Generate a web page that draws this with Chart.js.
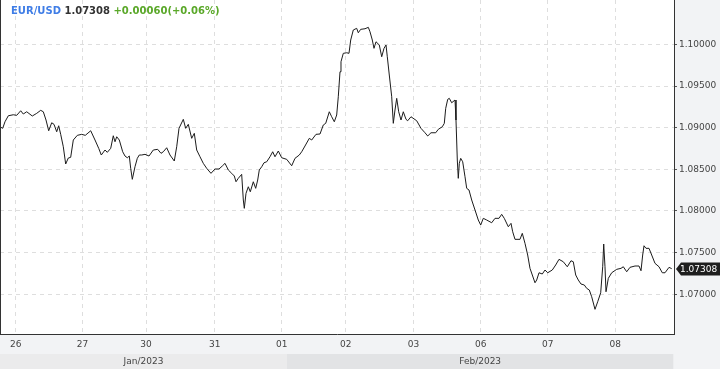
<!DOCTYPE html>
<html>
<head>
<meta charset="utf-8">
<script src="https://cdn.jsdelivr.net/npm/chart.js@4/dist/chart.umd.min.js"></script>
<style>
html,body{margin:0;padding:0;background:#f2f3f5;}
#wrap{position:relative;width:720px;height:369px;overflow:hidden;}
#title{position:absolute;left:11px;top:5px;font:bold 10px "DejaVu Sans",sans-serif;line-height:12px;white-space:pre;}
#title .sym{color:#3f7de6;}
#title .px{color:#333;}
#title .chg{color:#5aa829;}
</style>
</head>
<body>
<div id="wrap">
<canvas id="c" width="720" height="369"></canvas>
<div id="title"><span class="sym">EUR/USD</span> <span class="px">1.07308</span> <span class="chg">+0.00060(+0.06%)</span></div>
</div>
<script>
// ---- data (time in hours from the start of the window, EUR/USD price) ----
const hours = [0,0.96,1.78,2.96,4.74,5.95,7.37,8.30,9.51,11.50,13.07,14.49,15.42,16.38,17.34,18.41,19.23,20.19,20.90,21.61,
22.54,23.39,24.32,25.17,26.10,27.53,29.09,30.37,32.30,33.83,35.15,36.07,37.39,38.21,39.42,40.34,40.95,41.56,42.48,43.69,
44.51,45.33,46.04,46.54,47.11,48.07,48.89,49.60,50.46,51.63,53.06,54.59,56.15,57.33,58.15,59.36,60.53,62.06,62.92,63.74,
65.27,66.12,67.05,68.26,69.19,70.04,71.22,72.39,73.60,75.13,76.56,77.98,79.16,80.12,81.30,82.50,83.43,84.04,84.85,86.06,
86.64,86.99,87.60,88.42,89.13,90.20,91.05,91.76,92.33,93.19,94.01,94.97,96.14,97.10,97.92,99.10,100.31,102.09,103.87,105.04,
106.58,107.43,108.60,110.14,110.99,112.52,113.95,115.12,115.98,117.26,118.11,119.04,119.89,120.46,121.07,121.42,122.24,123.45,124.27,124.88,
125.80,127.01,127.58,128.44,129.97,131.15,131.75,132.57,133.17,133.89,135.06,135.92,136.74,137.45,137.91,138.62,139.48,140.05,140.65,141.26,
141.97,142.79,143.61,144.57,145.17,146.35,148.38,149.91,151.34,152.30,153.47,155.15,156.07,157.50,158.21,158.71,159.42,159.99,160.84,162.02,
162.37,162.84,163.19,163.55,164.05,164.76,165.58,166.18,167.00,167.96,169.14,170.31,171.17,172.09,173.30,175.08,176.26,177.68,178.64,179.57,
181.00,181.96,182.56,183.38,185.16,185.98,186.94,187.90,188.72,190.50,191.11,191.93,193.10,194.07,195.03,196.66,197.87,199.05,200.58,202.01,
203.32,204.14,205.00,205.92,206.88,208.06,208.91,209.84,210.69,211.87,212.83,213.90,214.61,214.97,215.43,215.79,216.61,217.82,219.60,221.13,
221.95,223.16,224.33,226.11,227.54,228.25,228.85,229.32,230.03,231.10,232.06,233.23,234.66,235.83,236.80,238.22,239.18];
const prices = [1.09011,1.08992,1.09071,1.09143,1.09155,1.09148,1.09203,1.09164,1.09191,1.09140,1.09172,1.09208,1.09191,1.09092,1.08963,1.09059,1.09040,1.08951,1.09023,1.08920,
1.08771,1.08564,1.08636,1.08644,1.08852,1.08908,1.08920,1.08908,1.08963,1.08852,1.08752,1.08672,1.08732,1.08704,1.08752,1.08903,1.08831,1.08891,1.08852,1.08711,
1.08660,1.08639,1.08660,1.08512,1.08380,1.08531,1.08632,1.08672,1.08672,1.08680,1.08660,1.08732,1.08740,1.08692,1.08711,1.08759,1.08672,1.08600,1.08771,1.08992,
1.09100,1.08992,1.09040,1.08872,1.08932,1.08732,1.08651,1.08572,1.08512,1.08452,1.08504,1.08504,1.08540,1.08572,1.08492,1.08452,1.08420,1.08351,1.08392,1.08440,
1.08132,1.08032,1.08212,1.08291,1.08231,1.08351,1.08272,1.08372,1.08492,1.08531,1.08579,1.08591,1.08651,1.08711,1.08651,1.08720,1.08639,1.08620,1.08543,1.08632,
1.08672,1.08711,1.08780,1.08872,1.08852,1.08920,1.08924,1.09032,1.09052,1.09191,1.09131,1.09071,1.09152,1.09371,1.09671,1.09791,1.09892,1.09899,1.09892,1.10052,
1.10172,1.10192,1.10139,1.10180,1.10187,1.10204,1.10151,1.10052,1.09952,1.10031,1.09992,1.09851,1.09952,1.09992,1.09851,1.09632,1.09371,1.09052,1.09212,1.09352,
1.09191,1.09092,1.09191,1.09100,1.09083,1.09131,1.09083,1.08992,1.08939,1.08900,1.08939,1.08939,1.08980,1.09011,1.09052,1.09232,1.09340,1.09352,1.09299,1.09332,
1.09092,1.08612,1.08392,1.08572,1.08632,1.08591,1.08411,1.08272,1.08252,1.08132,1.08012,1.07892,1.07832,1.07912,1.07892,1.07859,1.07912,1.07912,1.07960,1.07912,
1.07811,1.07852,1.07751,1.07660,1.07660,1.07732,1.07612,1.07472,1.07312,1.07139,1.07172,1.07259,1.07244,1.07292,1.07259,1.07292,1.07352,1.07420,1.07391,1.07331,
1.07403,1.07391,1.07232,1.07172,1.07124,1.07112,1.07072,1.07052,1.06971,1.06820,1.06911,1.07019,1.07331,1.07604,1.07331,1.07031,1.07192,1.07259,1.07300,1.07312,
1.07331,1.07271,1.07324,1.07340,1.07340,1.07283,1.07472,1.07583,1.07552,1.07552,1.07472,1.07372,1.07331,1.07259,1.07259,1.07324,1.07308];

const dayTickHours  = [5.6, 29.4, 52.0, 76.5, 100.3, 123.1, 147.2, 171.2, 195.0, 219.1];
const dayTickLabels = ['26','27','30','31','01','02','03','06','07','08'];
const monthLabels   = ['Jan/2023','Feb/2023'];
const monthStart    = [0, 102.2];
const monthEnd      = [102.2, 239.75];
const yTicks        = [1.070, 1.075, 1.080, 1.085, 1.090, 1.095, 1.100];
const xRange        = [0, 240];
const yRange        = [1.06524, 1.10532];
const lastPrice     = 1.07308;

const FONT = '"DejaVu Sans", sans-serif';

function noPad(s) {
  s.paddingTop = 0; s.paddingBottom = 0; s.paddingLeft = 0; s.paddingRight = 0;
}

const decor = {
  id: 'decor',
  beforeDraw(chart) {
    const {ctx, chartArea: a, scales} = chart;
    ctx.save();
    ctx.fillStyle = '#f2f3f5';
    ctx.fillRect(0, 0, chart.width, chart.height);
    ctx.fillStyle = '#ffffff';
    ctx.fillRect(a.left, a.top, a.right - a.left, a.bottom - a.top);
    const x2 = scales.x2;
    const fills = ['#ebebec', '#e2e3e5'];
    for (let i = 0; i < monthLabels.length; i++) {
      const l = x2.getPixelForValue(monthStart[i]);
      const r = x2.getPixelForValue(monthEnd[i]);
      ctx.fillStyle = fills[i % 2];
      ctx.fillRect(l, x2.top, r - l, x2.bottom - x2.top);
    }
    ctx.restore();
  },
  afterDraw(chart) {
    const {ctx, chartArea: a, scales: {y}} = chart;
    ctx.save();
    ctx.strokeStyle = '#333';
    ctx.lineWidth = 1;
    ctx.beginPath();
    ctx.moveTo(a.left + 0.5, a.top);
    ctx.lineTo(a.left + 0.5, a.bottom);
    ctx.stroke();
    // current price marker
    const py = Math.round(y.getPixelForValue(lastPrice));
    const x0 = a.right + 2;
    ctx.fillStyle = '#1e1e1e';
    ctx.beginPath();
    ctx.moveTo(x0, py);
    ctx.lineTo(x0 + 5, py - 6.5);
    ctx.lineTo(chart.width, py - 6.5);
    ctx.lineTo(chart.width, py + 6.5);
    ctx.lineTo(x0 + 5, py + 6.5);
    ctx.closePath();
    ctx.fill();
    ctx.fillStyle = '#ffffff';
    ctx.font = '9px ' + FONT;
    ctx.textBaseline = 'middle';
    ctx.textAlign = 'left';
    ctx.fillText(lastPrice.toFixed(5), a.right + 6, py + 0.5);
    ctx.restore();
  }
};

new Chart(document.getElementById('c'), {
  type: 'line',
  data: {
    datasets: [{
      data: hours.map((h, i) => ({x: h, y: prices[i]})),
      borderColor: '#1c1c1c',
      borderWidth: 1,
      pointRadius: 0,
      tension: 0,
      fill: false
    }]
  },
  options: {
    responsive: false,
    animation: false,
    devicePixelRatio: 1,
    layout: {padding: 0},
    plugins: {legend: {display: false}, tooltip: {enabled: false}},
    scales: {
      x: {
        type: 'linear', position: 'bottom', weight: 0,
        min: xRange[0], max: xRange[1],
        afterBuildTicks: s => { s.ticks = dayTickHours.map(v => ({value: v})); },
        afterFit: s => { s.height = 20; noPad(s); },
        grid: {color: '#dedede', drawTicks: false, lineWidth: 1},
        border: {display: true, color: '#333', width: 1, dash: [4, 4]},
        ticks: {
          autoSkip: false, maxRotation: 0, padding: 5,
          font: {family: FONT, size: 9}, color: '#444',
          callback: (v, i) => dayTickLabels[i]
        }
      },
      x2: {
        type: 'linear', position: 'bottom', weight: 10,
        min: xRange[0], max: xRange[1],
        afterBuildTicks: s => { s.ticks = monthStart.map((v, i) => ({value: (monthStart[i] + monthEnd[i]) / 2})); },
        afterFit: s => { s.height = 15; noPad(s); },
        grid: {display: false, drawTicks: false},
        border: {display: false},
        ticks: {
          autoSkip: false, maxRotation: 0, padding: 2,
          font: {family: FONT, size: 9}, color: '#444',
          callback: (v, i) => monthLabels[i]
        }
      },
      y: {
        type: 'linear', position: 'right',
        min: yRange[0], max: yRange[1],
        afterBuildTicks: s => { s.ticks = yTicks.map(v => ({value: v})); },
        afterFit: s => { s.width = 46; noPad(s); },
        grid: {color: '#dedede', drawTicks: true, tickLength: 3, tickColor: '#555', tickBorderDash: [3, 0]},
        border: {display: true, color: '#333', width: 1, dash: [4, 4]},
        ticks: {
          padding: 2, font: {family: FONT, size: 9}, color: '#444',
          callback: v => Number(v).toFixed(5)
        }
      }
    }
  },
  plugins: [decor]
});
</script>
</body>
</html>
